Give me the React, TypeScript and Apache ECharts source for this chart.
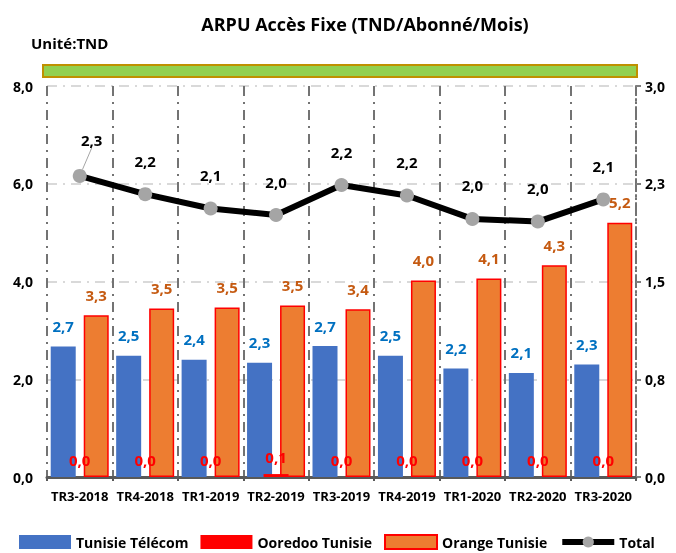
import React, { useEffect, useRef } from "react";
import * as echarts from "echarts";

const categories = ["TR3-2018", "TR4-2018", "TR1-2019", "TR2-2019", "TR3-2019", "TR4-2019", "TR1-2020", "TR2-2020", "TR3-2020"];
const tunisieTelecom = [2.67, 2.48, 2.4, 2.34, 2.68, 2.48, 2.22, 2.13, 2.3];
const ooredooTunisie = [0, 0, 0, 0.06, 0, 0, 0, 0, 0];
const orangeTunisie = [3.31, 3.45, 3.47, 3.51, 3.43, 4.02, 4.06, 4.33, 5.2];
const totalArpu = [2.31, 2.17, 2.06, 2.01, 2.24, 2.16, 1.98, 1.96, 2.13];
const seriesNames = ["Tunisie Télécom", "Ooredoo Tunisie", "Orange Tunisie", "Total"];
const leftAxis = { min: 0, max: 8, interval: 2 };
const rightAxis = { min: 0, max: 3, interval: 0.75 };
const titleText = "ARPU Accès Fixe (TND/Abonné/Mois)";
const unitText = "Unité:TND";

const FONT = "'Open Sans', sans-serif";
const fmt = (v: number) => v.toFixed(1).replace(".", ",");

export default function App() {
  const ref = useRef<HTMLDivElement>(null);
  useEffect(() => {
    if (!ref.current) return;
    const chart = echarts.init(ref.current, null, { renderer: "svg" });
    const vDash = { color: "#737373", width: 2, type: [10, 6, 2, 6] as number[] };
    const hDash = { color: "#d9d9d9", width: 2, type: [10, 6, 2, 6] as number[] };
    const lbl = (color: string) => ({
      fontFamily: FONT,
      fontWeight: 700,
      fontSize: 15,
      color,
    });
    const totalData = totalArpu.map((v, i) =>
      i === 0 ? { value: v, labelLine: { show: true, lineStyle: { color: "#A5A5A5", width: 1 } } } : { value: v, labelLine: { show: false } }
    );
    chart.setOption({
      animation: false,
      textStyle: { fontFamily: FONT },
      title: [
        {
          text: titleText,
          left: 360,
          textAlign: "center",
          top: 10,
          textStyle: { fontFamily: FONT, fontWeight: 700, fontSize: 18, color: "#000" },
        },
        {
          text: unitText,
          left: 26,
          top: 30,
          textStyle: { fontFamily: FONT, fontWeight: 700, fontSize: 15, color: "#000" },
        },
      ],
      graphic: [
        {
          type: "rect",
          left: 42,
          top: 64,
          shape: { width: 594, height: 12 },
          style: { fill: "#92D050", stroke: "#BF9000", lineWidth: 2 },
        },
      ],
      legend: {
        left: 14,
        top: 529,
        itemWidth: 52,
        itemHeight: 14,
        itemGap: 12,
        data: [
          { name: seriesNames[0], icon: "rect" },
          { name: seriesNames[1], icon: "rect" },
          { name: seriesNames[2], icon: "rect" },
          { name: seriesNames[3], lineStyle: { width: 6, color: "#000" } },
        ],
        textStyle: { fontFamily: FONT, fontWeight: 700, fontSize: 14, color: "#000" },
      },
      grid: { left: 47, right: 40, top: 86, bottom: 76, containLabel: false },
      xAxis: {
        type: "category",
        data: categories,
        axisLine: { show: true, lineStyle: { color: "#595959", width: 3 } },
        axisTick: { show: true, length: 4, lineStyle: { color: "#595959", width: 2 } },
        axisLabel: { interval: 0, fontFamily: FONT, fontWeight: 700, fontSize: 13, color: "#000", margin: 12 },
        splitLine: { show: true, lineStyle: vDash },
      },
      yAxis: [
        {
          type: "value",
          min: leftAxis.min,
          max: leftAxis.max,
          interval: leftAxis.interval,
          axisLine: { show: false },
          axisTick: { show: false },
          axisLabel: { formatter: fmt, fontFamily: FONT, fontWeight: 700, fontSize: 14, color: "#000", margin: 14 },
          splitLine: { show: true, lineStyle: hDash },
        },
        {
          type: "value",
          min: rightAxis.min,
          max: rightAxis.max,
          interval: rightAxis.interval,
          axisLine: { show: true, lineStyle: vDash },
          axisTick: { show: true, length: 5, lineStyle: { color: "#7f7f7f", width: 2 } },
          axisLabel: { formatter: fmt, fontFamily: FONT, fontWeight: 700, fontSize: 14, color: "#000", margin: 9 },
          splitLine: { show: false },
        },
      ],
      series: [
        {
          name: seriesNames[0],
          type: "bar",
          data: tunisieTelecom,
          barWidth: 25,
          barGap: "-34%",
          itemStyle: { color: "#4472C4" },
          label: { show: true, position: "top", distance: 13, formatter: (p: any) => fmt(p.value), ...lbl("#0070C0") },
        },
        {
          name: seriesNames[1],
          type: "bar",
          data: ooredooTunisie,
          barWidth: 25,
          barGap: "-34%",
          itemStyle: { color: "#FF0000" },
          label: { show: true, position: "top", distance: 10, formatter: (p: any) => fmt(p.value), ...lbl("#FF0000") },
          z: 3,
        },
        {
          name: seriesNames[2],
          type: "bar",
          data: orangeTunisie,
          barWidth: 25,
          barGap: "-34%",
          itemStyle: { color: "#ED7D31", borderColor: "#FF0000", borderWidth: 1.5 },
          label: { show: true, position: "top", distance: 13, formatter: (p: any) => fmt(p.value), ...lbl("#C55A11") },
          z: 2,
        },
        {
          name: seriesNames[3],
          type: "line",
          yAxisIndex: 1,
          data: totalData,
          symbol: "circle",
          symbolSize: 14,
          lineStyle: { color: "#000", width: 6 },
          itemStyle: { color: "#A5A5A5" },
          label: { show: true, position: "top", distance: 19, formatter: (p: any) => fmt(p.value), ...lbl("#000") },
          labelLayout: (p: any) => (p.dataIndex === 0 ? { dx: 12, dy: -2 } : {}),
          labelLine: { show: false },
          z: 5,
        },
      ],
    });
    return () => chart.dispose();
  }, []);
  return <div ref={ref} style={{ position: "fixed", left: 0, top: 0, width: 676, height: 553 }} />;
}
